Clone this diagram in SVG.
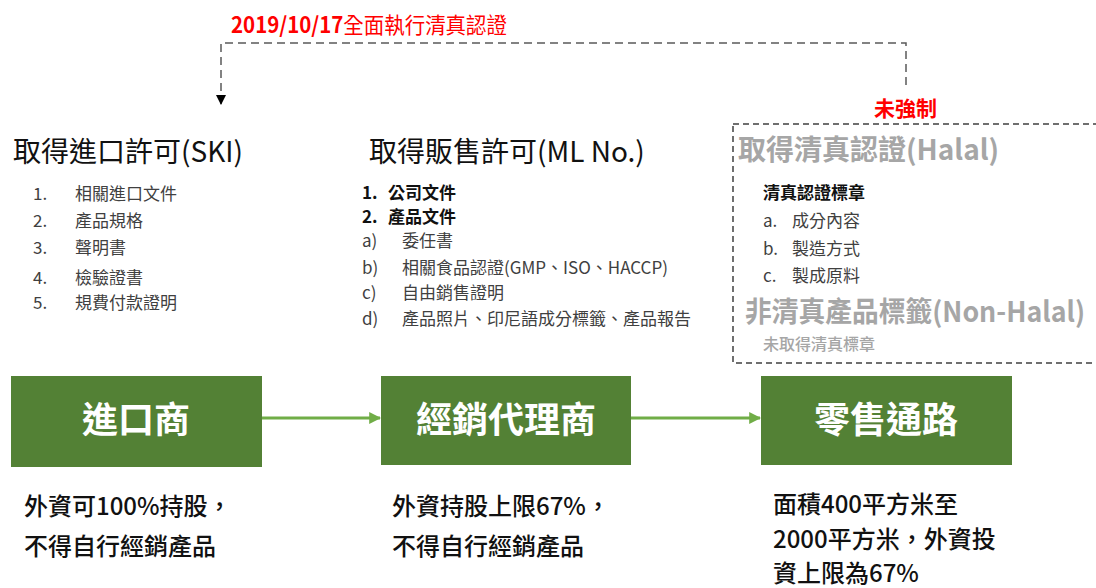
<svg xmlns="http://www.w3.org/2000/svg" width="1096" height="588" viewBox="0 0 1096 588">
<defs>
<style>
text{font-family:"Noto Sans CJK TC","Noto Sans",sans-serif;}
.title{font-size:28px;fill:#111;}
.item{font-size:17px;fill:#404040;}
.itemb{font-size:17px;fill:#111;font-weight:700;}
.gray{font-size:28px;fill:#a6a6a6;font-weight:700;}
.red{fill:#ff0000;font-weight:700;}
.box{fill:#538135;}
.boxt{font-size:36px;fill:#fff;font-weight:700;text-anchor:middle;}
.note{font-size:24px;fill:#111;font-weight:500;}
.flow{stroke:#70ad47;stroke-width:3;fill:none;}
.dash{stroke:#595959;stroke-width:1.5;fill:none;stroke-dasharray:8 5;}
</style>
<marker id="ga" viewBox="0 0 10 10" refX="9" refY="5" markerWidth="4" markerHeight="4" orient="auto" markerUnits="strokeWidth">
<path d="M0,0 L10,5 L0,10 z" fill="#70ad47"/>
</marker>
<marker id="ka" viewBox="0 0 10 10" refX="9" refY="5" markerWidth="7" markerHeight="7" orient="auto" markerUnits="strokeWidth">
<path d="M0,0 L10,5 L0,10 z" fill="#000"/>
</marker>
</defs>
<rect width="1096" height="588" fill="#fff"/>

<g id="connectors">
<path class="dash" d="M906,85 L906,43 L221,43 L221,104" marker-end="url(#ka)"/>
<line class="flow" x1="262" y1="418" x2="380" y2="418" marker-end="url(#ga)"/>
<line class="flow" x1="631" y1="418" x2="760" y2="418" marker-end="url(#ga)"/>
</g>

<g id="label-date">
<text class="red" x="231" y="33" font-size="22" textLength="276" lengthAdjust="spacingAndGlyphs">2019/10/17<tspan font-weight="400">全面執行清真認證</tspan></text>
</g>
<g id="label-optional">
<text class="red" x="874" y="116" font-size="21">未強制</text>
</g>

<g id="ski">
<text class="title" x="13" y="162">取得進口許可(SKI)</text>
<text class="item" x="33" y="200">1.</text><text class="item" x="75" y="200">相關進口文件</text>
<text class="item" x="33" y="227">2.</text><text class="item" x="75" y="227">產品規格</text>
<text class="item" x="33" y="254">3.</text><text class="item" x="75" y="254">聲明書</text>
<text class="item" x="33" y="284">4.</text><text class="item" x="75" y="284">檢驗證書</text>
<text class="item" x="33" y="309">5.</text><text class="item" x="75" y="309">規費付款證明</text>
</g>

<g id="ml">
<text class="title" x="369" y="162">取得販售許可(ML No.)</text>
<text class="itemb" x="362" y="199">1.</text><text class="itemb" x="388" y="199">公司文件</text>
<text class="itemb" x="362" y="223">2.</text><text class="itemb" x="388" y="223">產品文件</text>
<text class="item" x="362" y="247">a)</text><text class="item" x="402" y="247">委任書</text>
<text class="item" x="362" y="274">b)</text><text class="item" x="402" y="274">相關食品認證(GMP、ISO、HACCP)</text>
<text class="item" x="362" y="299">c)</text><text class="item" x="402" y="299">自由銷售證明</text>
<text class="item" x="362" y="325">d)</text><text class="item" x="402" y="325">產品照片、印尼語成分標籤、產品報告</text>
</g>

<g id="halal">
<rect x="733" y="124" width="380" height="239" fill="none" stroke="#404040" stroke-width="1.5" stroke-dasharray="6 4"/>
<text class="gray" x="745" y="322" textLength="340" lengthAdjust="spacingAndGlyphs">非清真產品標籤(Non-Halal)</text>
<text class="gray" x="738" y="160">取得清真認證(Halal)</text>
<text class="itemb" x="763" y="199">清真認證標章</text>
<text class="item" x="763" y="227" fill="#222">a.</text><text class="item" x="792" y="227">成分內容</text>
<text class="item" x="763" y="255">b.</text><text class="item" x="792" y="255">製造方式</text>
<text class="item" x="763" y="282">c.</text><text class="item" x="792" y="282">製成原料</text>
<text x="763" y="350" font-size="16" fill="#a6a6a6" font-weight="500">未取得清真標章</text>
</g>

<g id="importer">
<rect class="box" x="11" y="376" width="251" height="91"/>
<text class="boxt" x="136" y="433">進口商</text>
<text class="note" x="24" y="515">外資可100%持股，</text>
<text class="note" x="24" y="555">不得自行經銷產品</text>
</g>

<g id="distributor">
<rect class="box" x="381" y="376" width="250" height="89"/>
<text class="boxt" x="506" y="433">經銷代理商</text>
<text class="note" x="392" y="515">外資持股上限67%，</text>
<text class="note" x="392" y="555">不得自行經銷產品</text>
</g>

<g id="retail">
<rect class="box" x="761" y="376" width="251" height="89"/>
<text class="boxt" x="886" y="433">零售通路</text>
<text class="note" x="773" y="513">面積400平方米至</text>
<text class="note" x="773" y="548">2000平方米，外資投</text>
<text class="note" x="773" y="582">資上限為67%</text>
</g>
</svg>
